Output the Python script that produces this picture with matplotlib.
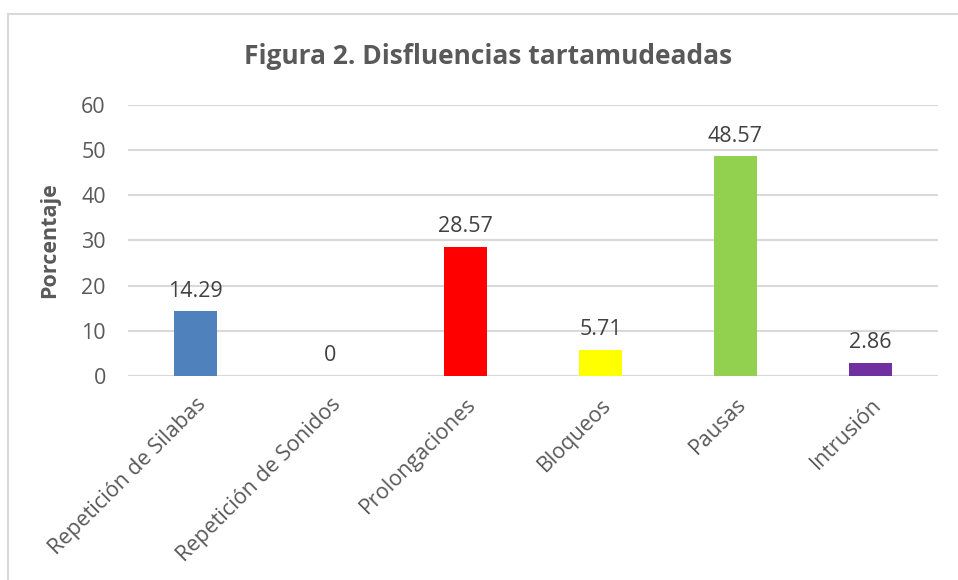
import matplotlib
matplotlib.use("Agg")
import matplotlib.pyplot as plt
from matplotlib.lines import Line2D

# data
categories = ["Repetición de Silabas", "Repetición de Sonidos", "Prolongaciones",
              "Bloqueos", "Pausas", "Intrusión"]
values = [14.29, 0, 28.57, 5.71, 48.57, 2.86]
value_labels = ["14.29", "0", "28.57", "5.71", "48.57", "2.86"]
bar_colors = ["#4F81BD", "#4F81BD", "#FF0000", "#FFFF00", "#92D050", "#7030A0"]
yticks = [0, 10, 20, 30, 40, 50, 60]

TEXT = "#595959"
GRID = "#D9D9D9"
plt.rcParams["font.family"] = ["Open Sans", "DejaVu Sans"]

W, H = 958, 580
fig = plt.figure(figsize=(W / 100, H / 100), dpi=100)

# chart-area border (only left and top edges are inside the picture)
fig.add_artist(Line2D([8 / W, 8 / W], [0, 1 - 14 / H], color=GRID, lw=1.5,
                      transform=fig.transFigure))
fig.add_artist(Line2D([8 / W, 1], [1 - 14 / H, 1 - 14 / H], color=GRID, lw=1.5,
                      transform=fig.transFigure))

left, right = 128 / W, 938 / W
bottom, top = 1 - 376 / H, 1 - 104.6 / H
ax = fig.add_axes([left, bottom, right - left, top - bottom])

x = range(len(categories))
ax.bar(x, values, width=0.32, color=bar_colors, zorder=3)

for xi, v, lab in zip(x, values, value_labels):
    ax.annotate(lab, (xi, v), xytext=(0, 7), textcoords="offset points",
                ha="center", va="bottom", fontsize=15.5, color="#404040")

ax.set_xlim(-0.5, len(categories) - 0.5)
ax.set_ylim(0, 60)
ax.set_yticks(yticks)
ax.yaxis.grid(True, color=GRID, lw=1.5, zorder=0)
for s in ax.spines.values():
    s.set_visible(False)
ax.tick_params(axis="both", length=0, colors=TEXT, labelsize=15.5)
ax.tick_params(axis="y", pad=16)
ax.set_xticks(list(x))
ax.set_xticklabels(categories, rotation=45, ha="right", rotation_mode="anchor",
                   fontsize=15.5)
ax.tick_params(axis="x", pad=13)

ax.set_ylabel("Porcentaje", fontsize=15.5, fontweight="bold", color=TEXT, labelpad=15)

fig.text(488 / W, 1 - 57 / H, "Figura 2. Disfluencias tartamudeadas",
         ha="center", va="center", fontsize=19, fontweight="bold", color=TEXT)

fig.savefig("out.png", dpi=100)
